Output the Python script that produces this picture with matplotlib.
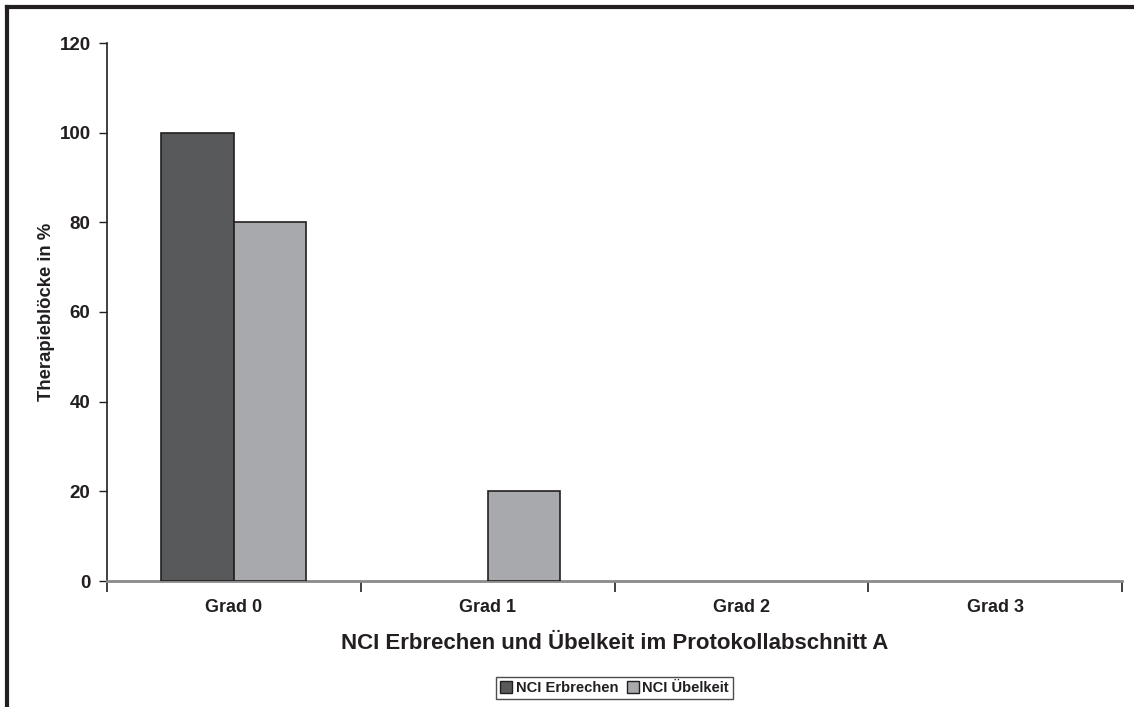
import matplotlib
matplotlib.use("Agg")
import matplotlib.pyplot as plt
from matplotlib.patches import Rectangle
from matplotlib.lines import Line2D
import numpy as np

categories = ["Grad 0", "Grad 1", "Grad 2", "Grad 3"]
erbrechen = [100, 0, 0, 0]
uebelkeit = [80, 20, 0, 0]
series_names = ["NCI Erbrechen", "NCI Übelkeit"]
y_ticks = [0, 20, 40, 60, 80, 100, 120]

plt.rcParams['font.family'] = ['Liberation Sans', 'DejaVu Sans']
plt.rcParams['font.weight'] = 'bold'

W, H = 1134, 707
fig = plt.figure(figsize=(W / 100, H / 100), dpi=100)
ax = fig.add_axes([107 / W, 1 - 581 / H, (1122 - 107) / W, (581 - 43) / H])

dark = "#58595b"
light = "#a7a9ac"
edge = "#231f20"
x = np.arange(len(categories))
w = 0.286
b1 = ax.bar(x - w / 2, erbrechen, w, color=dark, edgecolor=edge, linewidth=1.2, zorder=3)
b2 = ax.bar(x + w / 2, uebelkeit, w, color=light, edgecolor=edge, linewidth=1.2, zorder=3)
for bars in (b1, b2):
    for p in bars:
        if p.get_height() == 0:
            p.set_visible(False)

ax.set_xlim(-0.5, len(categories) - 0.5)
ax.set_ylim(0, 120)
ax.set_yticks(y_ticks)
ax.set_yticklabels([str(v) for v in y_ticks], fontsize=13.5, fontweight='bold', color='#231f20')
ax.set_xticks(x)
ax.set_xticklabels(categories, fontsize=13, fontweight='bold', color='#231f20')
ax.set_xticks(np.arange(-0.5, len(categories)), minor=True)
ax.tick_params(axis='x', which='major', length=0, pad=13)
ax.tick_params(axis='x', which='minor', length=8, width=1.2, color=edge, direction='out')
ax.tick_params(axis='y', length=6, width=1, color=edge, direction='out', pad=5.8)

for s in ['top', 'right']:
    ax.spines[s].set_visible(False)
ax.spines['left'].set_color(edge)
ax.spines['left'].set_linewidth(1.2)
ax.spines['bottom'].set_color('#8a8a8a')
ax.spines['bottom'].set_linewidth(2)

ax.set_ylabel("Therapieblöcke in %", fontsize=13.3, fontweight='bold', labelpad=3, color='#231f20')
ax.set_xlabel("NCI Erbrechen und Übelkeit im Protokollabschnitt A", fontsize=16, fontweight='bold',
              labelpad=12, color='#231f20')

handles = [Rectangle((0, 0), 1, 1, facecolor=dark, edgecolor=edge, linewidth=1),
           Rectangle((0, 0), 1, 1, facecolor=light, edgecolor=edge, linewidth=1)]
leg = fig.legend(handles, series_names, loc='center', bbox_to_anchor=(614.5 / W, 1 - 688 / H),
                 ncol=2, frameon=True, fancybox=False, edgecolor=edge,
                 prop={'weight': 'bold', 'size': 10.6},
                 handlelength=0.8, handleheight=0.8, handletextpad=0.25, columnspacing=0.6,
                 borderpad=0.3, borderaxespad=0)
leg.get_frame().set_linewidth(1)
for t in leg.get_texts():
    t.set_color('#231f20')

# outer frame (top and left)
fig.add_artist(Line2D([7 / W, 1], [1 - 7 / H, 1 - 7 / H], transform=fig.transFigure, color=edge, lw=3))
fig.add_artist(Line2D([7 / W, 7 / W], [0, 1 - 7 / H], transform=fig.transFigure, color=edge, lw=3))

fig.savefig("out.png", dpi=100)
